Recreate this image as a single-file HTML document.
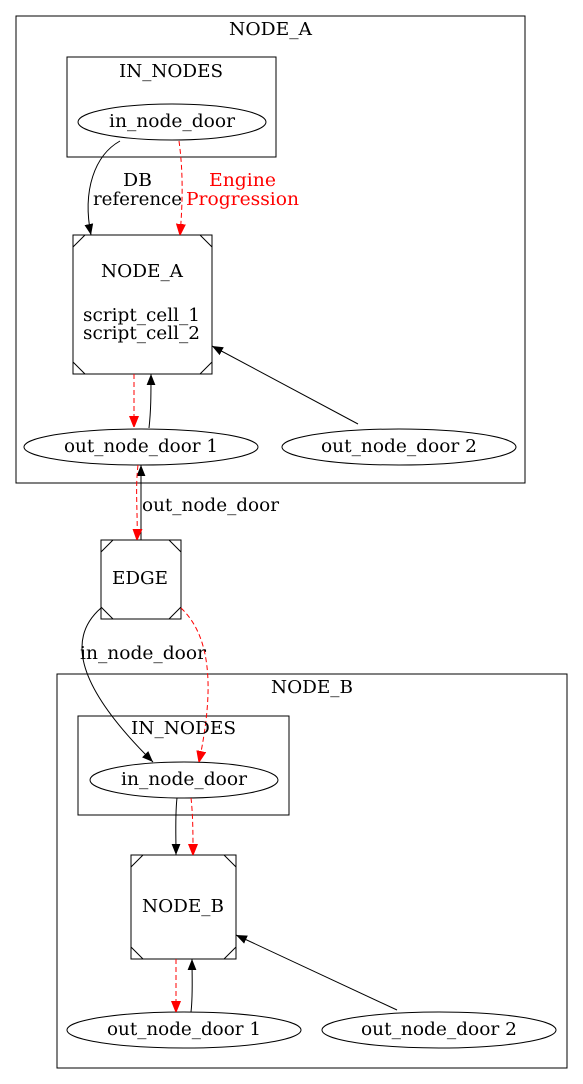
<!DOCTYPE html>
<html><head><meta charset="utf-8"><style>html,body{margin:0;padding:0;background:#fff}svg{display:block}text{font-family:"DejaVu Serif","Liberation Serif",serif;font-size:17.5px}</style></head>
<body>
<svg width="583" height="1084" viewBox="0 0 583 1084" xmlns="http://www.w3.org/2000/svg">
<defs>
<marker id="ab" viewBox="0 0 10 10" refX="10" refY="5" markerWidth="11" markerHeight="11" markerUnits="userSpaceOnUse" orient="auto"><path d="M0,1 L10,5 L0,9 z" fill="#000"/></marker>
<marker id="ar" viewBox="0 0 10 10" refX="10" refY="5" markerWidth="11" markerHeight="11" markerUnits="userSpaceOnUse" orient="auto"><path d="M0,1 L10,5 L0,9 z" fill="red" stroke="red"/></marker>
</defs>
<g fill="none" stroke="#000" stroke-width="1">
<rect x="16" y="16" width="509" height="467"/>
<rect x="67" y="57" width="209" height="100"/>
<ellipse cx="172" cy="122" rx="94" ry="18"/>
<rect x="73" y="235" width="139" height="139"/>
<path d="M73,247 L85,235 M200,235 L212,247 M73,362 L85,374 M200,374 L212,362"/>
<ellipse cx="141" cy="447" rx="117" ry="18"/>
<ellipse cx="399" cy="447" rx="117" ry="18"/>
<rect x="101" y="540" width="80" height="79"/>
<path d="M101,552 L113,540 M169,540 L181,552 M101,607 L113,619 M169,619 L181,607"/>
<rect x="57" y="674" width="510" height="394"/>
<rect x="78" y="716" width="211" height="99"/>
<ellipse cx="184" cy="780" rx="94" ry="18"/>
<rect x="131" y="855" width="105" height="104"/>
<path d="M131,867 L143,855 M224,855 L236,867 M131,947 L143,959 M224,959 L236,947"/>
<ellipse cx="184" cy="1030" rx="117" ry="18"/>
<ellipse cx="439" cy="1030" rx="117" ry="18"/>
<path d="M120,141 C95,155 82,190 91,235" marker-end="url(#ab)"/>
<path d="M149,428 C151,410 151,395 151,374" marker-end="url(#ab)"/>
<path d="M358,424 L212,346" marker-end="url(#ab)"/>
<path d="M141,540 L141,465" marker-end="url(#ab)"/>
<path d="M101,608 C70,635 70,680 153,762" marker-end="url(#ab)"/>
<path d="M177,798 C175,815 176,835 176,855" marker-end="url(#ab)"/>
<path d="M191,1012 C193,995 192,978 192,959" marker-end="url(#ab)"/>
<path d="M397,1010 L236,935" marker-end="url(#ab)"/>
</g>
<g fill="none" stroke="red" stroke-width="1" stroke-dasharray="5,3">
<path d="M179,141 C183,170 183,200 180,235" marker-end="url(#ar)"/>
<path d="M134,374 L134,427" marker-end="url(#ar)"/>
<path d="M138,465 C135,490 138,515 137,540" marker-end="url(#ar)"/>
<path d="M181,608 C215,640 212,700 199,762" marker-end="url(#ar)"/>
<path d="M191,798 C193,815 193,835 193,855" marker-end="url(#ar)"/>
<path d="M176,959 L176,1012" marker-end="url(#ar)"/>
</g>
<g fill="#000">
<text lengthAdjust="spacingAndGlyphs" x="229" y="35" textLength="83">NODE_A</text>
<text lengthAdjust="spacingAndGlyphs" x="119" y="77" textLength="104">IN_NODES</text>
<text lengthAdjust="spacingAndGlyphs" x="109" y="127" textLength="126">in_node_door</text>
<text lengthAdjust="spacingAndGlyphs" x="123" y="186" textLength="29">DB</text>
<text lengthAdjust="spacingAndGlyphs" x="93" y="205" textLength="89">reference</text>
<text lengthAdjust="spacingAndGlyphs" x="209" y="186" fill="red" textLength="67">Engine</text>
<text lengthAdjust="spacingAndGlyphs" x="186" y="205" fill="red" textLength="113">Progression</text>
<text lengthAdjust="spacingAndGlyphs" x="101" y="277" textLength="82">NODE_A</text>
<text lengthAdjust="spacingAndGlyphs" x="83" y="321" textLength="117">script_cell_1</text>
<text lengthAdjust="spacingAndGlyphs" x="83" y="339" textLength="117">script_cell_2</text>
<text lengthAdjust="spacingAndGlyphs" x="64" y="452" textLength="154">out_node_door 1</text>
<text lengthAdjust="spacingAndGlyphs" x="321" y="452" textLength="156">out_node_door 2</text>
<text lengthAdjust="spacingAndGlyphs" x="142" y="511" textLength="137">out_node_door</text>
<text lengthAdjust="spacingAndGlyphs" x="112" y="584" textLength="56">EDGE</text>
<text lengthAdjust="spacingAndGlyphs" x="80" y="659" textLength="126">in_node_door</text>
<text lengthAdjust="spacingAndGlyphs" x="271" y="693" textLength="82">NODE_B</text>
<text lengthAdjust="spacingAndGlyphs" x="131" y="734" textLength="105">IN_NODES</text>
<text lengthAdjust="spacingAndGlyphs" x="121" y="785" textLength="126">in_node_door</text>
<text lengthAdjust="spacingAndGlyphs" x="142" y="912" textLength="82">NODE_B</text>
<text lengthAdjust="spacingAndGlyphs" x="107" y="1035" textLength="154">out_node_door 1</text>
<text lengthAdjust="spacingAndGlyphs" x="361" y="1035" textLength="156">out_node_door 2</text>
</g>
</svg>
</body></html>
